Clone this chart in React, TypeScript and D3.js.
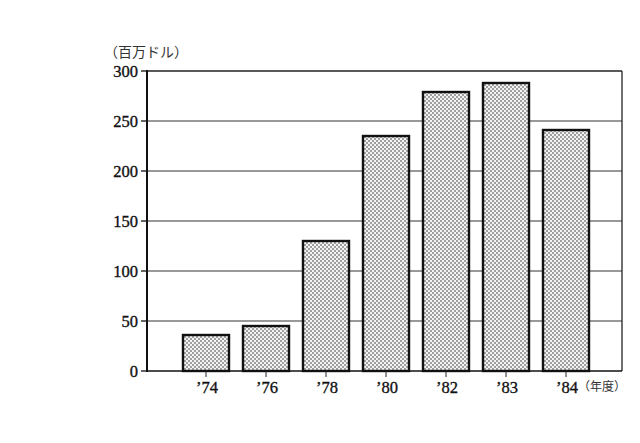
import React from "react";
import * as d3 from "d3";

// 年度別の金額（百万ドル）
const years = ["’74", "’76", "’78", "’80", "’82", "’83", "’84"];
const values = [36, 45, 130, 235, 279, 288, 241];
const yTicks = [0, 50, 100, 150, 200, 250, 300];

const W = 640;
const H = 443;
const left = 147;
const right = 622;
const top = 71;
const bottom = 371;

export default function App() {
  const x = d3
    .scaleBand<string>()
    .domain(years)
    .range([176, 596])
    .paddingInner(0.233)
    .paddingOuter(0.1165);
  const y = d3.scaleLinear().domain([0, 300]).range([bottom, top]);

  const serif = "'Liberation Serif', 'DejaVu Serif', serif";
  const cjk = "'Noto Sans CJK JP', sans-serif";

  return (
    <svg
      width={W}
      height={H}
      style={{ position: "absolute", left: 0, top: 0, background: "#fff" }}
    >
      <defs>
        <pattern id="dots" width={4} height={4} patternUnits="userSpaceOnUse">
          <rect width={4} height={4} fill="#f4f4f4" />
          <circle cx={1} cy={1} r={0.8} fill="#333" />
          <circle cx={3} cy={3} r={0.8} fill="#333" />
        </pattern>
      </defs>

      {/* 横の目盛り線 */}
      {yTicks
        .filter((t) => t > 0 && t < 300)
        .map((t) => (
          <line
            key={t}
            x1={left}
            x2={right}
            y1={y(t)}
            y2={y(t)}
            stroke="#333"
            strokeWidth={1.2}
          />
        ))}

      {/* 棒 */}
      {years.map((yr, i) => (
        <rect
          key={yr}
          x={x(yr)}
          y={y(values[i])}
          width={x.bandwidth()}
          height={bottom - y(values[i])}
          fill="url(#dots)"
          stroke="#111"
          strokeWidth={2.4}
        />
      ))}

      {/* 枠 */}
      <line x1={left} x2={right} y1={top} y2={top} stroke="#222" strokeWidth={1.5} />
      <line x1={right} x2={right} y1={top} y2={bottom} stroke="#222" strokeWidth={1.3} />
      <line x1={left} x2={right} y1={bottom} y2={bottom} stroke="#111" strokeWidth={1.6} />
      <line x1={left} x2={left} y1={top - 1} y2={bottom + 1} stroke="#111" strokeWidth={2} />

      {/* 縦軸の目盛りとラベル */}
      {yTicks.map((t) => (
        <g key={t}>
          <line x1={left - 6} x2={left} y1={y(t)} y2={y(t)} stroke="#111" strokeWidth={1.3} />
          <text
            x={left - 9}
            y={y(t)}
            dy="0.36em"
            textAnchor="end"
            fontFamily={serif}
            fontSize={16.5}
            fill="#111"
            stroke="#111"
            strokeWidth={0.35}
          >
            {t}
          </text>
        </g>
      ))}

      {/* 横軸の目盛りとラベル */}
      {years.map((yr) => {
        const cx = (x(yr) as number) + x.bandwidth() / 2;
        return (
          <g key={yr}>
            <line x1={cx} x2={cx} y1={bottom} y2={bottom + 6} stroke="#222" strokeWidth={1} />
            <text
              x={cx + 1}
              y={393}
              textAnchor="middle"
              fontFamily={serif}
              fontSize={16.5}
              fill="#111"
              stroke="#111"
              strokeWidth={0.35}
            >
              {yr}
            </text>
          </g>
        );
      })}

      <text x={578} y={391} fontFamily={cjk} fontSize={12} fill="#333">
        （年度）
      </text>
      <text x={104} y={57} fontFamily={cjk} fontSize={14} fill="#333">
        （百万ドル）
      </text>
    </svg>
  );
}
